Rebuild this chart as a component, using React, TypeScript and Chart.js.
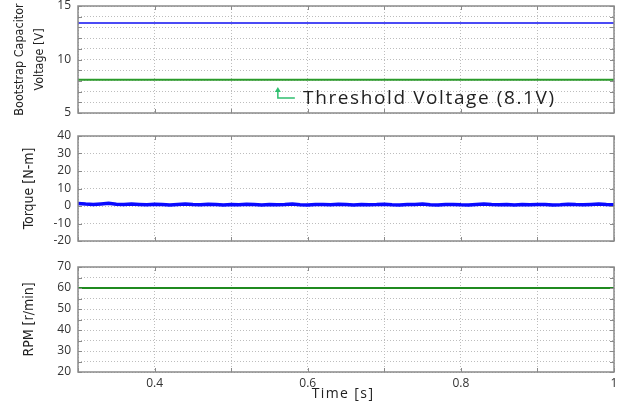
import React, { useEffect, useRef } from "react";
import { Chart, registerables } from "chart.js";

Chart.register(...registerables);

// ---- data ----
const xTickValues = [0.4, 0.6, 0.8, 1.0];
const xTickLabels = ["0.4", "0.6", "0.8", "1"];
const xTitle = "Time [s]";

const capTime = [0.3, 1.0];
const capVoltage = [13.4, 13.4];
const thresholdVoltage = [8.1, 8.1];
const thresholdText = "Threshold Voltage (8.1V)";

const torque = [
  1.4, 1.1, 0.9, 1.2, 1.5, 1.0, 0.8, 1.1, 0.9, 0.7,
  1.0, 0.8, 0.6, 0.9, 1.2, 0.8, 0.7, 1.0, 0.9, 0.6,
  0.8, 0.7, 1.0, 0.8, 0.6, 0.9, 0.7, 0.8, 1.1, 0.7,
  0.6, 0.9, 0.8, 0.7, 1.0, 0.8, 0.6, 0.9, 0.7, 0.8,
  1.0, 0.7, 0.6, 0.9, 0.8, 1.1, 0.7, 0.6, 0.8, 0.9,
  0.7, 0.6, 0.9, 1.2, 0.8, 0.7, 0.9, 0.6, 0.8, 0.7,
  0.9, 0.8, 0.6, 0.7, 1.0, 0.8, 0.7, 0.9, 1.1, 0.8, 0.7,
];
const torqueTime = torque.map((_, i) => 0.3 + i * 0.01);

const rpmTime = [0.3, 1.0];
const rpm = [60, 60];

const GRID = "#bdbdbd";
const BORDER = "#8a8a8a";
const TICK_FONT = "'Open Sans', 'Noto Sans', sans-serif";
const TITLE_FONT = "'DejaVu Sans Condensed', 'Liberation Sans Narrow', 'Noto Sans', sans-serif";

const pts = (xs: number[], ys: number[]) => xs.map((x, i) => ({ x, y: ys[i] }));

const frame = {
  id: "frame",
  afterDraw(chart: any) {
    const { ctx, chartArea: a, scales } = chart;
    ctx.save();
    ctx.strokeStyle = BORDER;
    ctx.lineWidth = 1;
    ctx.beginPath();
    scales.y.ticks.forEach((t: any) => {
      const y = Math.round(scales.y.getPixelForValue(t.value)) + 0.5;
      ctx.moveTo(a.left, y);
      ctx.lineTo(a.left + 4, y);
      ctx.moveTo(a.right, y);
      ctx.lineTo(a.right - 4, y);
    });
    scales.x.ticks.forEach((t: any) => {
      const x = Math.round(scales.x.getPixelForValue(t.value)) + 0.5;
      ctx.moveTo(x, a.bottom);
      ctx.lineTo(x, a.bottom - 4);
      ctx.moveTo(x, a.top);
      ctx.lineTo(x, a.top + 4);
    });
    ctx.stroke();
    ctx.lineWidth = 1.5;
    ctx.strokeRect(a.left, a.top, a.right - a.left, a.bottom - a.top);
    ctx.restore();
  },
};

const annotation = {
  id: "thresholdAnnotation",
  afterDraw(chart: any) {
    const { ctx, scales } = chart;
    const ax = scales.x.getPixelForValue(0.561);
    const ay = scales.y.getPixelForValue(6.4);
    ctx.save();
    ctx.strokeStyle = "#2fbf6f";
    ctx.fillStyle = "#2fbf6f";
    ctx.lineWidth = 1.5;
    ctx.beginPath();
    ctx.moveTo(ax, ay - 7);
    ctx.lineTo(ax, ay);
    ctx.lineTo(ax + 17, ay);
    ctx.stroke();
    ctx.beginPath();
    ctx.moveTo(ax, ay - 11);
    ctx.lineTo(ax - 3, ay - 6);
    ctx.lineTo(ax + 3, ay - 6);
    ctx.closePath();
    ctx.fill();
    ctx.fillStyle = "#222";
    ctx.font = `19px ${TICK_FONT}`;
    (ctx as any).letterSpacing = "1.6px";
    ctx.textBaseline = "middle";
    ctx.fillText(thresholdText, scales.x.getPixelForValue(0.594), ay + 1);
    ctx.restore();
  },
};

const xTitlePlugin = {
  id: "xTitle",
  afterDraw(chart: any) {
    const { ctx, chartArea: a } = chart;
    ctx.save();
    ctx.fillStyle = "#222";
    ctx.font = `14px ${TICK_FONT}`;
    (ctx as any).letterSpacing = "1.4px";
    ctx.textAlign = "center";
    ctx.textBaseline = "middle";
    ctx.fillText(xTitle, (a.left + a.right) / 2 - 3, chart.height - 11.5);
    ctx.restore();
  },
};

type Cfg = {
  datasets: any[];
  yMin: number;
  yMax: number;
  yStep: number;
  yLabels: number[];
  yTitle: string | string[];
  titleSize: number;
  titleLH: number;
  titlePad: number;
  showX: boolean;
  padTop: number;
  padBottom: number;
  xHeight: number;
  plugins: any[];
};

function makeConfig(c: Cfg): any {
  return {
    type: "line",
    data: { datasets: c.datasets },
    plugins: c.plugins,
    options: {
      animation: false,
      responsive: false,
      events: [],
      layout: { padding: { left: 0, right: 7, top: c.padTop, bottom: c.padBottom } },
      plugins: { legend: { display: false }, tooltip: { enabled: false } },
      elements: { point: { radius: 0 } },
      scales: {
        x: {
          type: "linear",
          min: 0.3,
          max: 1.0,
          afterFit: (s: any) => {
            s.height = c.xHeight;
            s.paddingLeft = 0;
            s.paddingRight = 0;
          },
          border: { display: false, dash: [1, 2] },
          grid: { color: GRID, drawTicks: false, lineWidth: 1 },
          ticks: {
            display: c.showX,
            stepSize: 0.1,
            padding: 4,
            maxRotation: 0,
            autoSkip: false,
            color: "#333",
            font: { family: TICK_FONT, size: 12 },
            callback: (v: number) => {
              const i = xTickValues.findIndex((t) => Math.abs(t - v) < 1e-6);
              return i >= 0 ? xTickLabels[i] : "";
            },
          },
          title: { display: false },
        },
        y: {
          min: c.yMin,
          max: c.yMax,
          afterFit: (s: any) => {
            s.width = 78;
            s.paddingTop = 0;
            s.paddingBottom = 0;
          },
          border: { display: false, dash: [1, 2] },
          grid: { color: GRID, drawTicks: false, lineWidth: 1 },
          ticks: {
            stepSize: c.yStep,
            padding: 7,
            autoSkip: false,
            color: "#333",
            font: { family: TICK_FONT, size: 12 },
            callback: (v: number) =>
              c.yLabels.some((t) => Math.abs(t - v) < 1e-6) ? String(v) : "",
          },
          title: {
            display: true,
            text: c.yTitle,
            color: "#222",
            font: { family: TITLE_FONT, size: c.titleSize, lineHeight: c.titleLH },
            padding: { top: c.titlePad, bottom: 0 },
          },
        },
      },
    },
  };
}

function Panel(props: { top: number; height: number; cfg: Cfg }) {
  const ref = useRef<HTMLCanvasElement | null>(null);
  useEffect(() => {
    if (!ref.current) return;
    const chart = new Chart(ref.current, makeConfig(props.cfg));
    return () => chart.destroy();
  }, []);
  return (
    <canvas
      ref={ref}
      width={621}
      height={props.height}
      style={{ position: "absolute", left: 0, top: props.top, width: 621, height: props.height }}
    />
  );
}

export default function App() {
  const top: Cfg = {
    datasets: [
      { data: pts(capTime, capVoltage), borderColor: "#4a4af5", borderWidth: 2, parsing: false },
      { data: pts(capTime, thresholdVoltage), borderColor: "#2a9a2a", borderWidth: 2, parsing: false },
    ],
    yMin: 5,
    yMax: 15,
    yStep: 1,
    yLabels: [5, 10, 15],
    yTitle: ["Bootstrap Capacitor", "Voltage [V]"],
    titleSize: 12.5,
    titleLH: 1.6,
    titlePad: 10,
    showX: false,
    padTop: 6,
    padBottom: 13,
    xHeight: 0,
    plugins: [frame, annotation],
  };
  const mid: Cfg = {
    datasets: [
      { data: pts(torqueTime, torque), borderColor: "#0a0aff", borderWidth: 3.5, parsing: false },
    ],
    yMin: -20,
    yMax: 40,
    yStep: 10,
    yLabels: [-20, -10, 0, 10, 20, 30, 40],
    yTitle: "Torque [N-m]",
    titleSize: 14,
    titleLH: 1.4,
    titlePad: 20,
    showX: false,
    padTop: 10,
    padBottom: 13,
    xHeight: 0,
    plugins: [frame],
  };
  const bot: Cfg = {
    datasets: [
      { data: pts(rpmTime, rpm), borderColor: "#1f8a1f", borderWidth: 2, parsing: false },
    ],
    yMin: 20,
    yMax: 70,
    yStep: 5,
    yLabels: [20, 30, 40, 50, 60, 70],
    yTitle: "RPM [r/min]",
    titleSize: 14,
    titleLH: 1.4,
    titlePad: 20,
    showX: true,
    padTop: 13,
    padBottom: 0,
    xHeight: 34,
    plugins: [frame, xTitlePlugin],
  };
  return (
    <div style={{ position: "fixed", left: 0, top: 0, width: 621, height: 406, background: "#fff" }}>
      <Panel top={0} height={126} cfg={top} />
      <Panel top={126} height={128} cfg={mid} />
      <Panel top={254} height={152} cfg={bot} />
    </div>
  );
}
